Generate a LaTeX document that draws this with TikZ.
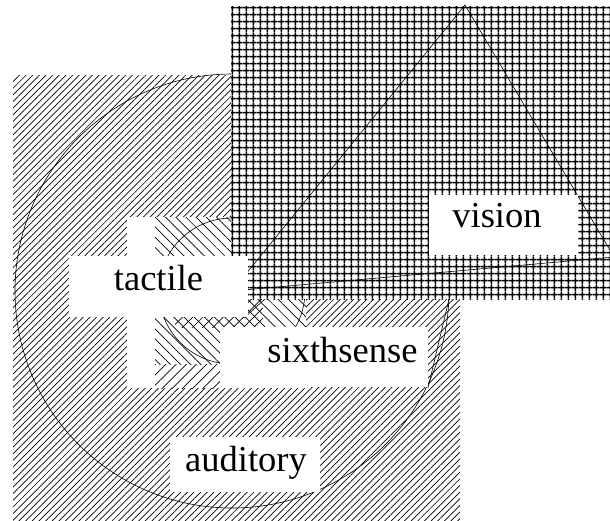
\documentclass[tikz,border=0pt]{standalone}
\usepackage{fontspec}
\setmainfont{Liberation Serif}
\usetikzlibrary{patterns.meta}
\begin{document}
\begin{tikzpicture}[x=1pt,y=-1pt,
  outline/.style={draw=black, line width=0.6pt},
  fineNE/.style={pattern={Lines[angle=45,distance=4.7pt,line width=0.7pt]}},
  wideNE/.style={pattern={Lines[angle=45,distance=7.2pt,line width=0.7pt]}},
  wideNW/.style={pattern={Lines[angle=-45,distance=7.2pt,line width=0.7pt]}},
  gridpat/.style={pattern={Hatch[angle=0,distance=6.85pt,line width=1.4pt]}},
  labelbox/.style={fill=white, draw=none, inner sep=0pt, outer sep=0pt},
  lbl/.style={font=\fontsize{36.5}{40}\selectfont, anchor=base, inner sep=0pt}
]
\useasboundingbox (0,0) rectangle (610,520);
\coordinate (C) at (232,291);

% auditory
\fill[white] (13,75) rectangle (460,520);
\path[fineNE] (13,75) rectangle (460,520);
\draw[outline] (C) circle[radius=217pt];

% tactile
\fill[white] (127,217) rectangle (306,388);
\path[wideNW] (155,217) rectangle (306,364);
\path[wideNE] (155,364) rectangle (220,388);
\path[wideNE] (175,299) rectangle (263,327);
\draw[outline] (C) circle[radius=73pt];

% sixthsense edges
\draw[outline] (449,299) -- (428,388);
\draw[outline] (265,299) -- (244,318);

% vision
\fill[white] (231,6) rectangle (610,299);
\path[gridpat] (231,6) rectangle (610,299);
\draw[outline] (C) -- (465,5) -- (614,257) -- cycle;

% labels
\node[labelbox, minimum width=149pt, minimum height=60pt] (visbox) at (503.5,225) {};
\node[lbl] (vision) at (497,227) {vision};
\node[labelbox, minimum width=179pt, minimum height=61pt] (tacbox) at (158.5,286.5) {};
\node[lbl] (tactile) at (158.5,290) {tactile};
\node[labelbox, minimum width=208pt, minimum height=60pt] (sixbox) at (324,357) {};
\node[lbl] (sixthsense) at (342.5,362) {sixthsense};
\node[labelbox, minimum width=150pt, minimum height=55pt] (audbox) at (245,464.5) {};
\node[lbl] (auditory) at (246,471) {auditory};
\end{tikzpicture}
\end{document}
